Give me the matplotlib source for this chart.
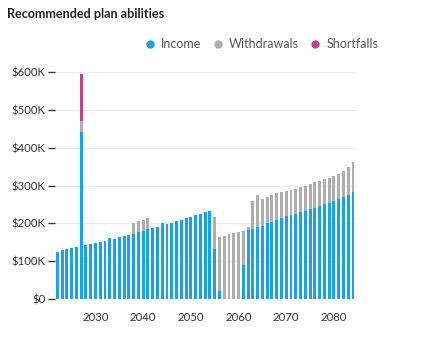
import matplotlib
matplotlib.use("Agg")
import matplotlib.pyplot as plt
from matplotlib.lines import Line2D
import numpy as np

years = list(range(2022, 2085))
income = [124, 129, 133, 136, 139, 442, 143, 147, 149, 151, 154, 161, 158, 163, 166, 169,
          173, 177, 181, 185, 187, 191, 200, 198, 202, 206, 209, 214, 217, 221, 225, 229,
          234, 133, 23, 0, 0, 0, 0, 90, 183, 186, 191, 194, 201, 205, 210, 214, 219, 222,
          226, 230, 234, 238, 242, 246, 251, 255, 259, 264, 269, 274, 282]
withdrawals = [0, 0, 0, 0, 0, 27, 0, 0, 0, 0, 0, 0, 0, 0, 0, 0,
               28, 30, 29, 30, 0, 0, 0, 0, 0, 0, 0, 0, 0, 0, 0, 0,
               0, 83, 142, 168, 171, 175, 178, 90, 8, 73, 85, 70, 70, 69, 69, 68, 67, 66,
               66, 65, 65, 65, 66, 65, 65, 66, 67, 67, 69, 74, 80]
shortfalls = [0] * 63
shortfalls[5] = 124
yticks = [0, 100, 200, 300, 400, 500, 600]
ytick_labels = ["$0", "$100K", "$200K", "$300K", "$400K", "$500K", "$600K"]
xticks = [2030, 2040, 2050, 2060, 2070, 2080]

plt.rcParams['font.family'] = ['Lato', 'DejaVu Sans']

c_inc = '#16A2F2'
c_wd = '#AEAEAE'
c_sf = '#C4418A'

fig = plt.figure(figsize=(4.37, 3.53), dpi=100)
ax = fig.add_axes([55/437, 1 - 299.3/353, (357-55)/437, (299.3-71.7)/353])

inc = np.array(income) * 1000
wd = np.array(withdrawals) * 1000
sf = np.array(shortfalls) * 1000
w = 0.62
ax.bar(years, inc, width=w, color=c_inc, zorder=3)
ax.bar(years, wd, width=w, bottom=inc, color=c_wd, zorder=3)
ax.bar(years, sf, width=w, bottom=inc + wd, color=c_sf, zorder=3)

ax.set_xlim(2021.52, 2084.84)
ax.set_ylim(0, 600000)
ax.set_yticks([v * 1000 for v in yticks])
ax.set_yticklabels(ytick_labels)
ax.set_xticks(xticks)
ax.set_xticklabels([str(x) for x in xticks])
for s in ax.spines.values():
    s.set_visible(False)
ax.grid(axis='y', color='#ECECEC', linewidth=1, zorder=0)
ax.tick_params(axis='y', length=5, width=1, color='#333333', pad=2,
               labelsize=8.2, labelcolor='#333333')
ax.tick_params(axis='x', length=0, pad=9, labelsize=8.2, labelcolor='#333333')

fig.text(7/437, 1 - 14/353, "Recommended plan abilities", fontsize=9.1,
         fontweight='bold', color='#222222', va='center', ha='left')

handles = [Line2D([], [], linestyle='none', marker='o', markersize=6, color=c,
                  markeredgewidth=0) for c in (c_inc, c_wd, c_sf)]
fig.legend(handles, ["Income", "Withdrawals", "Shortfalls"], ncol=3,
           loc='center left', bbox_to_anchor=(145/437, 1 - 44/353), frameon=False,
           fontsize=9, labelcolor='#555555', handlelength=0.8, handletextpad=0.5,
           columnspacing=0.9, borderaxespad=0, borderpad=0)

fig.savefig("out.png", dpi=100)
